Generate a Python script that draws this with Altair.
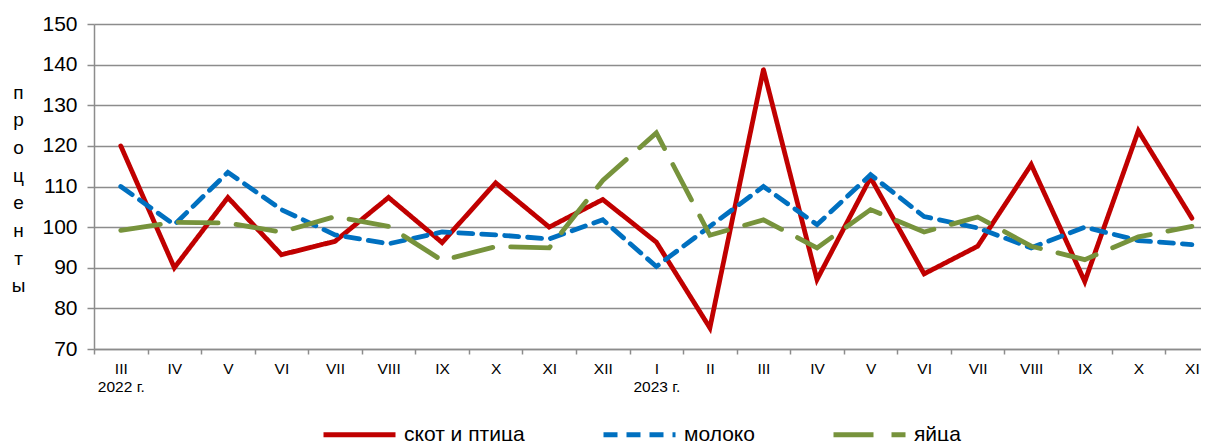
import altair as alt
import pandas as pd

months = ["III", "IV", "V", "VI", "VII", "VIII", "IX", "X", "XI", "XII",
          "I", "II", "III", "IV", "V", "VI", "VII", "VIII", "IX", "X", "XI"]
years = ["2022 г.", "", "", "", "", "", "", "", "", "",
         "2023 г.", "", "", "", "", "", "", "", "", "", ""]

skot = [120.0, 90.0, 107.3, 93.2, 96.5, 107.3, 96.2, 110.9, 100.0, 106.8,
        96.3, 75.2, 138.8, 87.1, 112.2, 88.5, 95.3, 115.4, 86.6, 123.7, 102.2]
moloko = [110.0, 100.6, 113.5, 104.3, 98.1, 95.9, 98.8, 98.1, 97.1, 101.8,
          90.3, 100.2, 110.0, 100.6, 112.9, 102.6, 99.8, 94.9, 100.0, 96.7, 95.7]
yaitsa = [99.2, 101.2, 101.0, 98.8, 102.6, 100.2, 91.8, 95.2, 94.9, 111.5,
          123.2, 98.0, 101.8, 94.9, 104.3, 98.8, 102.5, 95.3, 92.0, 97.6, 100.2]

series = ["скот и птица", "молоко", "яйца"]
colors = ["#C00000", "#0070C0", "#77933C"]
dashes = [[1, 0], [14, 9], [40, 18]]
y_title = ["п", "р", "о", "ц", "е", "н", "т", "ы"]

rows = []
for name, vals in zip(series, [skot, moloko, yaitsa]):
    for i, v in enumerate(vals):
        rows.append({"idx": i, "value": v, "series": name})
df = pd.DataFrame(rows)

label_arr = "[" + ",".join(
    "[" + ",".join("'" + t + "'" for t in ([m] + ([y] if y else []))) + "]"
    for m, y in zip(months, years)) + "]"
label_expr = label_arr + "[datum.value + 0.5]"

gray = "#8c8c8c"
FONT = "Liberation Sans"
W, H = 1107, 325
xmin, xmax = -0.5, 20.17
band_px = W / (xmax - xmin)

legend = alt.Legend(title=None, orient="none", legendX=227, legendY=372,
                    direction="horizontal", symbolType="stroke",
                    symbolSize=5184, symbolStrokeWidth=5,
                    labelFontSize=21, labelFont=FONT, labelColor="black",
                    labelOffset=6, columnPadding=68)

chart = alt.Chart(df).mark_line(strokeWidth=4.8, strokeCap="round").encode(
    x=alt.X("idx:Q",
            scale=alt.Scale(domain=[xmin, xmax], nice=False, zero=False),
            axis=alt.Axis(values=[i - 0.5 for i in range(len(months))],
                          labelExpr=label_expr, labelOffset=band_px / 2,
                          tickSize=5, tickColor=gray, tickWidth=1.5,
                          domainColor=gray, domainWidth=1.5, grid=False,
                          title=None, labelFont=FONT, labelFontSize=15.5,
                          labelColor="black", labelLineHeight=18,
                          labelPadding=7, labelBound=False,
                          labelOverlap=False, labelFlush=False)),
    y=alt.Y("value:Q",
            scale=alt.Scale(domain=[70, 150], nice=False, zero=False),
            axis=alt.Axis(values=list(range(70, 151, 10)), grid=True,
                          gridColor=gray, gridWidth=1.5, tickSize=7,
                          tickColor=gray, tickWidth=1.5, domainColor=gray,
                          domainWidth=1.5, labelFont=FONT, labelFontSize=21,
                          labelColor="black", labelPadding=10,
                          title=y_title, titleAngle=0, titleX=-76, titleY=74,
                          titleFont=FONT, titleFontSize=19,
                          titleFontWeight="normal", titleColor="black",
                          titleLineHeight=27.7, titleAlign="center",
                          titleBaseline="alphabetic")),
    color=alt.Color("series:N", scale=alt.Scale(domain=series, range=colors),
                    legend=legend),
    strokeDash=alt.StrokeDash("series:N",
                              scale=alt.Scale(domain=series, range=dashes),
                              legend=legend),
).properties(
    width=W, height=H,
    autosize=alt.AutoSizeParams(type="none"),
    padding={"left": 86, "top": 16, "right": 0, "bottom": 92},
).configure_view(strokeWidth=0)

chart.save("out.html", embed_options={"renderer": "svg", "actions": False})
